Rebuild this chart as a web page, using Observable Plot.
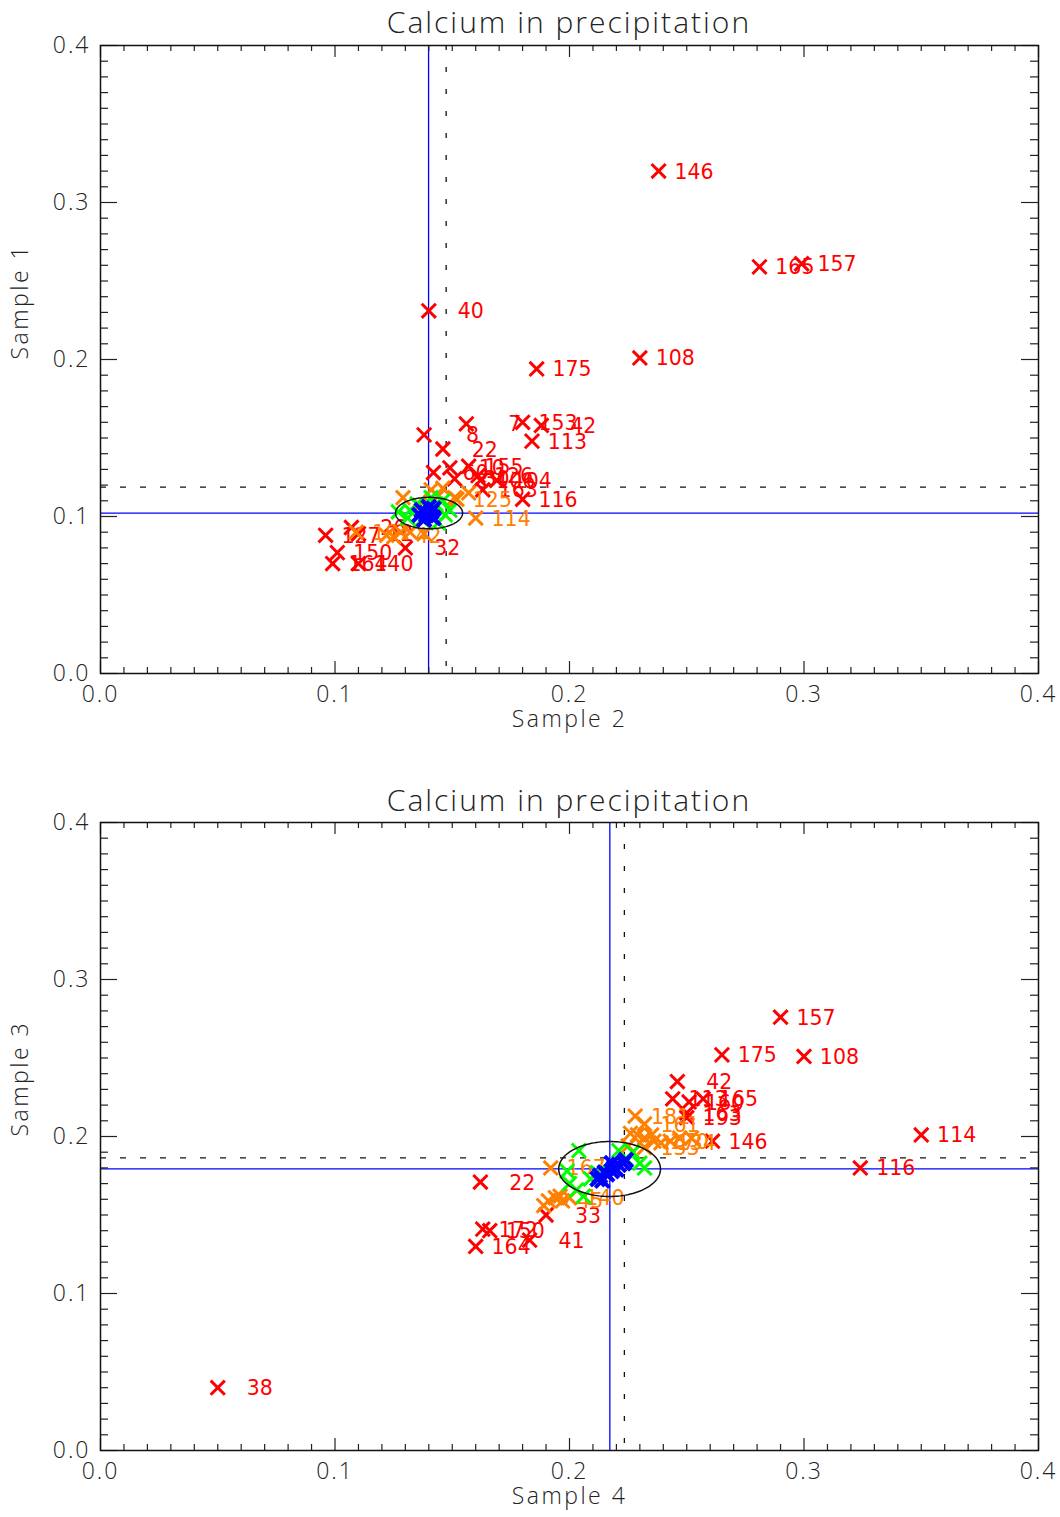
<!DOCTYPE html>
<html><head><meta charset="utf-8">
<script src="https://cdn.jsdelivr.net/npm/d3@7"></script>
<script src="https://cdn.jsdelivr.net/npm/@observablehq/plot@0.6"></script>
<style>
body{margin:0;background:#fff;width:1060px;}
.title{width:1060px;text-align:center;font-family:"Open Sans",sans-serif;font-weight:300;font-size:30px;letter-spacing:2px;color:#222;box-sizing:border-box;padding-left:78px;white-space:nowrap;}
#t1{height:30px;line-height:44px;}
#t2{height:57px;padding-top:30px;line-height:40px;}
svg{display:block;overflow:visible}
g[aria-label="x-axis tick label"] text, g[aria-label="y-axis tick label"] text{letter-spacing:2px;font-weight:300}
.axis-title text, text.axis-title, [aria-label="axis-title"] text, text[aria-label="axis-title"]{letter-spacing:2.5px;font-weight:300}
</style></head><body>
<div id="t1" class="title">Calcium in precipitation</div>
<div id="p1"></div>
<div id="t2" class="title">Calcium in precipitation</div>
<div id="p2"></div>
<script>
// ---------- axis ticks ----------
const majorTicks = [0, 0.1, 0.2, 0.3, 0.4];
const minorTicks = [0.01,0.02,0.03,0.04,0.05,0.06,0.07,0.08,0.09,0.11,0.12,0.13,0.14,0.15,0.16,0.17,0.18,0.19,0.21,0.22,0.23,0.24,0.25,0.26,0.27,0.28,0.29,0.31,0.32,0.33,0.34,0.35,0.36,0.37,0.38,0.39];

// ---------- panel 1: Sample 2 (x) vs Sample 1 (y) ----------
const p1RedLabel = ["146","165","157","40","108","175","153","42","113","7","8","22","155","116","60","10","30","126","106","104","163","127","26","12","150","164","140","32"];
const p1RedX = [0.238,0.281,0.299,0.140,0.230,0.186,0.180,0.188,0.184,0.156,0.138,0.146,0.157,0.180,0.142,0.149,0.151,0.161,0.162,0.169,0.163,0.096,0.107,0.110,0.101,0.099,0.110,0.130];
const p1RedY = [0.320,0.259,0.261,0.231,0.201,0.194,0.160,0.158,0.148,0.159,0.152,0.143,0.132,0.111,0.128,0.131,0.124,0.126,0.123,0.123,0.117,0.088,0.093,0.089,0.077,0.070,0.070,0.080];
const p1OrangeLabel = ["125","114","167","42","","","","","","","","","","",""];
const p1OrangeX = [0.152,0.160,0.109,0.122,0.129,0.141,0.146,0.151,0.157,0.144,0.136,0.125,0.132,0.128,0.138];
const p1OrangeY = [0.111,0.099,0.090,0.088,0.112,0.117,0.118,0.112,0.115,0.113,0.107,0.087,0.090,0.090,0.089];
const p1GreenX = [0.132,0.135,0.146,0.149,0.131,0.137,0.144,0.141,0.127,0.147,0.139,0.143];
const p1GreenY = [0.104,0.108,0.110,0.104,0.099,0.098,0.096,0.112,0.103,0.101,0.106,0.108];
const p1BlueX = [0.137,0.139,0.141,0.142,0.138,0.140,0.142,0.139,0.141,0.136];
const p1BlueY = [0.104,0.101,0.103,0.099,0.098,0.106,0.105,0.102,0.100,0.101];
const p1Mean = [0.1399, 0.1021];     // blue solid lines
const p1Median = [0.1474, 0.1187];   // black dashed lines
const p1Ellipse = [0.1401, 0.1022, 0.0143, 0.0100]; // cx, cy, rx, ry

// ---------- panel 2: Sample 4 (x) vs Sample 3 (y) ----------
const p2RedLabel = ["157","175","108","42","165","160","113","163","193","146","114","116","22","38","164","172","150","41","33"];
const p2RedX = [0.290,0.265,0.300,0.246,0.257,0.251,0.244,0.250,0.250,0.261,0.350,0.324,0.162,0.050,0.160,0.163,0.166,0.183,0.190];
const p2RedY = [0.276,0.252,0.251,0.235,0.224,0.222,0.224,0.215,0.212,0.197,0.201,0.180,0.171,0.040,0.130,0.141,0.140,0.134,0.150];
const p2OrangeLabel = ["167","45","140","181","161","133","170","134","","","","","","","","","","","",""];
const p2OrangeX = [0.192,0.191,0.200,0.228,0.232,0.232,0.236,0.239,0.189,0.194,0.196,0.197,0.226,0.229,0.232,0.235,0.243,0.247,0.252,0.225];
const p2OrangeY = [0.180,0.159,0.161,0.213,0.208,0.193,0.197,0.196,0.156,0.161,0.162,0.159,0.202,0.201,0.199,0.201,0.197,0.199,0.199,0.194];
const p2GreenX = [0.204,0.221,0.199,0.200,0.203,0.206,0.230,0.232,0.227,0.224,0.209,0.212];
const p2GreenY = [0.191,0.191,0.178,0.170,0.166,0.162,0.183,0.180,0.190,0.186,0.173,0.177];
const p2BlueX = [0.212,0.213,0.215,0.218,0.219,0.221,0.223,0.224,0.214,0.218,0.216,0.220];
const p2BlueY = [0.173,0.175,0.177,0.178,0.180,0.182,0.183,0.185,0.172,0.183,0.176,0.179];
const p2Mean = [0.2172, 0.1794];
const p2Median = [0.2234, 0.1864];
const p2Ellipse = [0.2171, 0.1793, 0.0217, 0.0175];

const COL = {red:"#ff0000", orange:"#ff8000", green:"#00ff00", blue:"#0000ff"};
const axisFont = "'Open Sans', sans-serif";
const labelFont = "DejaVu Sans, sans-serif";

function pts(xs, ys, labels) { return xs.map((x, i) => ({x, y: ys[i], label: labels ? labels[i] : ""})); }
function ellipse([cx, cy, rx, ry]) {
  return d3.range(0, 361, 3).map(a => ({x: cx + rx * Math.cos(a * Math.PI / 180), y: cy + ry * Math.sin(a * Math.PI / 180)}));
}

function panel(o) {
  const innerW = 938, innerH = 628;
  const red = pts(o.redX, o.redY, o.redLabel);
  const orange = pts(o.orangeX, o.orangeY, o.orangeLabel);
  const green = pts(o.greenX, o.greenY);
  const blue = pts(o.blueX, o.blueY);
  const tk = {stroke: "#222", strokeWidth: 1.2};
  const labelOpts = (c) => ({x: "x", y: "y", text: "label", textAnchor: "end", dx: 55, dy: 1, fill: c, fontSize: 20.5, fontFamily: labelFont});
  const dotOpts = (c, w) => ({x: "x", y: "y", symbol: "times", r: 6.5, stroke: c, strokeWidth: w});
  const titleOpts = {fontSize: 23, fontFamily: axisFont, fontWeight: 300, fill: "#222", ariaLabel: "axis-title", className: "axis-title"};
  return Plot.plot({
    width: 1060, height: o.marginTop + innerH + o.marginBottom,
    marginLeft: 100, marginRight: 22, marginTop: o.marginTop, marginBottom: o.marginBottom,
    x: {domain: [0, 0.4]}, y: {domain: [0, 0.4]},
    style: {fontFamily: axisFont, background: "white", color: "#222", overflow: "visible"},
    marks: [
      Plot.ruleX([o.median[0]], {stroke: "#111", strokeWidth: 1.3, strokeDasharray: "5,17"}),
      Plot.ruleY([o.median[1]], {stroke: "#111", strokeWidth: 1.3, strokeDasharray: "6,14"}),
      Plot.ruleX([o.mean[0]], {stroke: COL.blue, strokeWidth: 1.3}),
      Plot.ruleY([o.mean[1]], {stroke: COL.blue, strokeWidth: 1.3}),
      Plot.dot(red, dotOpts(COL.red, 3)),
      Plot.text(red, labelOpts(COL.red)),
      Plot.dot(orange, dotOpts(COL.orange, 3)),
      Plot.text(orange, labelOpts(COL.orange)),
      Plot.dot(green, dotOpts(COL.green, 3)),
      Plot.line(ellipse(o.ellipse), {x: "x", y: "y", stroke: "#111", strokeWidth: 1.5}),
      Plot.dot(blue, dotOpts(COL.blue, 4)),
      // inward ticks on all four sides
      Plot.tickX(minorTicks, {x: d => d, insetTop: innerH - 6, ...tk}),
      Plot.tickX(minorTicks, {x: d => d, insetBottom: innerH - 6, ...tk}),
      Plot.tickX(majorTicks, {x: d => d, insetTop: innerH - 12, ...tk}),
      Plot.tickX(majorTicks, {x: d => d, insetBottom: innerH - 12, ...tk}),
      Plot.tickY(minorTicks, {y: d => d, insetRight: innerW - 8, ...tk}),
      Plot.tickY(minorTicks, {y: d => d, insetLeft: innerW - 8, ...tk}),
      Plot.tickY(majorTicks, {y: d => d, insetRight: innerW - 17, ...tk}),
      Plot.tickY(majorTicks, {y: d => d, insetLeft: innerW - 17, ...tk}),
      Plot.frame({stroke: "#111", strokeWidth: 1.5}),
      Plot.axisX({ticks: majorTicks, tickSize: 0, tickPadding: 12, tickFormat: d3.format(".1f"), fontSize: 23, label: null, fill: "#222"}),
      Plot.axisY({ticks: majorTicks, tickSize: 0, tickPadding: 10, tickFormat: d3.format(".1f"), fontSize: 23, label: null, fill: "#222"}),
      Plot.text([o.xlabel], {frameAnchor: "bottom", dy: 53, ...titleOpts}),
      Plot.text([o.ylabel], {frameAnchor: "left", dx: -80, rotate: -90, ...titleOpts})
    ]
  });
}

document.getElementById("p1").append(panel({
  marginTop: 15, marginBottom: 77, xlabel: "Sample 2", ylabel: "Sample 1",
  redX: p1RedX, redY: p1RedY, redLabel: p1RedLabel,
  orangeX: p1OrangeX, orangeY: p1OrangeY, orangeLabel: p1OrangeLabel,
  greenX: p1GreenX, greenY: p1GreenY, blueX: p1BlueX, blueY: p1BlueY,
  mean: p1Mean, median: p1Median, ellipse: p1Ellipse
}));
document.getElementById("p2").append(panel({
  marginTop: 15, marginBottom: 67, xlabel: "Sample 4", ylabel: "Sample 3",
  redX: p2RedX, redY: p2RedY, redLabel: p2RedLabel,
  orangeX: p2OrangeX, orangeY: p2OrangeY, orangeLabel: p2OrangeLabel,
  greenX: p2GreenX, greenY: p2GreenY, blueX: p2BlueX, blueY: p2BlueY,
  mean: p2Mean, median: p2Median, ellipse: p2Ellipse
}));
</script>
</body></html>
